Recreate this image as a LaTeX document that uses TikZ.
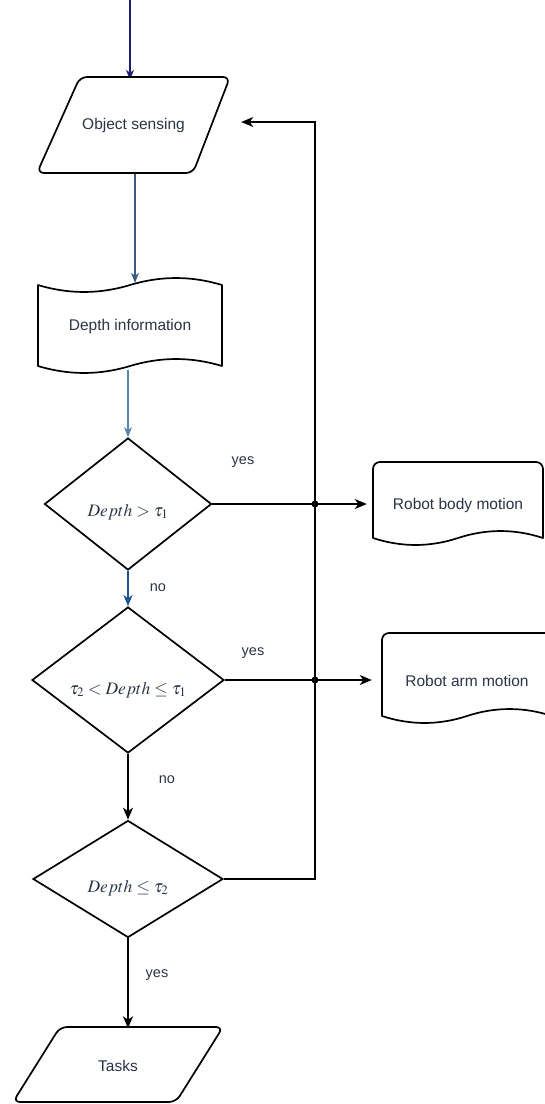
\documentclass[tikz,border=0pt]{standalone}
\usepackage{mathptmx}
\usepackage[no-math]{fontspec}
\setmainfont{Liberation Sans}
\usetikzlibrary{shapes.geometric,arrows.meta,calc}
\pgfdeclarelayer{background}
\pgfsetlayers{background,main}
\definecolor{txtc}{HTML}{2B3445}
\definecolor{navy}{HTML}{1C1F6B}
\definecolor{steelA}{HTML}{3A5A80}
\definecolor{steelB}{HTML}{5A84B0}
\definecolor{blueC}{HTML}{1F5592}
\begin{document}
\begin{tikzpicture}[x=1pt,y=-1pt,
  shp/.style={draw=black,fill=white,line width=1.7pt,line join=round},
  txt/.style={inner sep=0pt,text=txtc,font=\fontsize{15.5}{18}\selectfont},
  lbl/.style={inner sep=0pt,text=txtc,font=\fontsize{14.5}{17}\selectfont},
  mth/.style={inner sep=0pt,text=txtc,font=\fontsize{17.5}{20}\selectfont},
  dia/.style={diamond,draw=black,fill=white,line width=1.7pt,inner sep=0pt,aspect=1.3},
  conn/.style={line width=1.7pt,draw=black,-{Stealth[length=12pt,width=10pt,inset=3.5pt]}},
  thin/.style={line width=1.1pt,-{Stealth[length=10pt,width=8pt,inset=3pt]}}
]
\useasboundingbox (0,0) rectangle (544,1104);

% ---- shapes ----
% Object sensing (parallelogram)
\draw[shp,rounded corners=7pt] (155,77) -- (230,77) -- (193,173) -- (37,173) -- (80,77) -- cycle;
% Depth information (tape)
\draw[shp] (38,285) .. controls (68.7,294.3) and (99.3,294.3) .. (130,285)
  .. controls (160.7,275.7) and (191.3,275.7) .. (222,285)
  -- (222,366)
  .. controls (191.3,356.7) and (160.7,356.7) .. (130,366)
  .. controls (99.3,375.3) and (68.7,375.3) .. (38,366) -- cycle;
% Robot body motion (document)
\draw[shp] (373,538) [rounded corners=7pt] -- (373,462) -- (543,462) -- (543,480) [sharp corners] -- (543,538)
  .. controls (514.7,528.7) and (486.3,528.7) .. (458,538)
  .. controls (429.7,547.3) and (401.3,547.3) .. (373,538) -- cycle;
% Robot arm motion (document)
\draw[shp] (382,716) [rounded corners=7pt] -- (382,633) -- (552,633) -- (552,650) [sharp corners] -- (552,716)
  .. controls (523.7,706.7) and (495.3,706.7) .. (467,716)
  .. controls (438.7,725.3) and (410.3,725.3) .. (382,716) -- cycle;
% Tasks (parallelogram)
\draw[shp,rounded corners=7pt] (140,1027) -- (223,1027) -- (176,1102) -- (13,1102) -- (60,1027) -- cycle;

% ---- nodes ----
\node[txt,minimum width=193pt,minimum height=90pt] (os) at (133.5,125) {Object sensing};
\node[txt,minimum width=184pt,minimum height=87pt] (di) at (130,326.5) {Depth information};
\node[txt,minimum width=170pt,minimum height=76pt] (rb) at (458,505) {Robot body motion};
\node[txt,minimum width=170pt,minimum height=80pt] (ra) at (467,681) {Robot arm motion};
\node[txt,minimum width=210pt,minimum height=75pt] (ts) at (118,1066) {Tasks};

\node[dia,minimum width=167pt,minimum height=132pt] (d1) at (128,504) {};
\node[mth] (d1t) at ([yshift=-8pt]d1.center) {$Depth > \tau_1$};
\node[dia,minimum width=192pt,minimum height=146pt] (d2) at (128,680) {};
\node[mth] (d2t) at ([yshift=-10pt]d2.center) {$\tau_2 < Depth \leq \tau_1$};
\node[dia,minimum width=190pt,minimum height=117pt] (d3) at (128,879) {};
\node[mth] (d3t) at ([yshift=-9pt]d3.center) {$Depth \leq \tau_2$};

\node[lbl] (y1) at (243,462) {yes};
\node[lbl] (y2) at (253,653) {yes};
\node[lbl] (n1) at (158,588) {no};
\node[lbl] (n2) at (167,780) {no};
\node[lbl] (y3) at (157,975) {yes};

\coordinate (start) at (130,0);
\coordinate (j1) at (315,504);
\coordinate (j2) at (315,680);

% ---- connectors ----
\begin{pgfonlayer}{background}
\draw[thin,color=navy] (start) -- (start |- os.north);
\draw[thin,color=steelA] ([xshift=1.5pt]os.south) -- ([xshift=1.5pt]os.south |- di.north);
\draw[thin,color=steelB] (di.south -| d1.north) -- (d1.north);
\draw[line width=2pt,color=blueC,-{Stealth[length=11pt,width=9pt,inset=3pt]}] (d1.south) -- (d2.north);
\draw[conn] (d2.south) -- (d3.north);
\draw[conn] (d3.south) -- (d3.south |- ts.north);
\draw[conn,shorten >=6pt] (d1.east) -- (d1.east -| rb.west);
\draw[conn,shorten >=10pt] (d2.east) -- (d2.east -| ra.west);
\draw[conn,shorten >=11pt] (d3.east) -- (d3.east -| j1) |- ([yshift=3pt]os.east);
\end{pgfonlayer}
\fill (j1) circle (3.5pt);
\fill (j2) circle (3.5pt);
\end{tikzpicture}
\end{document}
